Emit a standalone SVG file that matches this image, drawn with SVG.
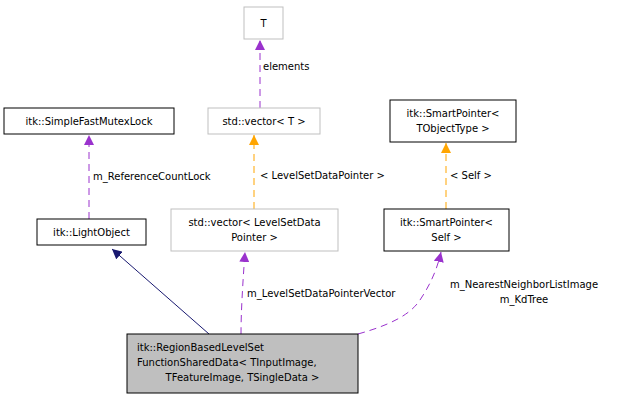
<svg xmlns="http://www.w3.org/2000/svg" width="617" height="400" viewBox="0 0 617 400">
<style>
text{font-family:"DejaVu Sans",sans-serif;font-size:10px;fill:#000}
.b{fill:#fff;stroke:#000;stroke-width:1}
.g{fill:#fff;stroke:#bfbfbf;stroke-width:1}
.p{fill:none;stroke:#9a32cd;stroke-dasharray:7,5}
.o{fill:none;stroke:#ffa500;stroke-dasharray:7,5}
.n{fill:none;stroke:#191970}
</style>
<defs>
<marker id="mp" viewBox="0 0 10 10" refX="10" refY="5" markerWidth="10" markerHeight="10" markerUnits="userSpaceOnUse" orient="auto"><path d="M0,0L10,5L0,10z" fill="#9a32cd"/></marker>
<marker id="mo" viewBox="0 0 10 10" refX="10" refY="5" markerWidth="10" markerHeight="10" markerUnits="userSpaceOnUse" orient="auto"><path d="M0,0L10,5L0,10z" fill="#ffa500"/></marker>
<marker id="mn" viewBox="0 0 10 10" refX="10" refY="5" markerWidth="10" markerHeight="10" markerUnits="userSpaceOnUse" orient="auto"><path d="M0,0L10,5L0,10z" fill="#191970"/></marker>
</defs>
<g id="connectors">
<path class="n" d="M209,334L112,249" marker-end="url(#mn)"/>
<path class="p" d="M89,219L89,135" marker-end="url(#mp)"/>
<text x="93" y="180">m_ReferenceCountLock</text>
<path class="p" d="M260,108L260,40" marker-end="url(#mp)"/>
<text x="263" y="70">elements</text>
<path class="o" d="M254,209L254,135" marker-end="url(#mo)"/>
<text x="260" y="179">&lt; LevelSetDataPointer &gt;</text>
<path class="o" d="M446,209L446,143" marker-end="url(#mo)"/>
<text x="450" y="179">&lt; Self &gt;</text>
<path class="p" d="M241,334C241,310 243,280 245,252" marker-end="url(#mp)"/>
<text x="247" y="297">m_LevelSetDataPointerVector</text>
<path class="p" d="M358,334C390,325 410,315 420,300C430,285 437,270 441,252" marker-end="url(#mp)"/>
<text x="524" y="288" text-anchor="middle">m_NearestNeighborListImage</text>
<text x="524" y="303" text-anchor="middle">m_KdTree</text>
</g>
<g id="T"><rect class="g" x="244" y="7" width="39" height="32"/><text x="263.5" y="27" text-anchor="middle">T</text></g>
<g id="mutex"><rect class="b" x="4" y="108" width="170" height="26"/><text x="89" y="125" text-anchor="middle">itk::SimpleFastMutexLock</text></g>
<g id="vecT"><rect class="g" x="208" y="108" width="112" height="26"/><text x="264" y="125" text-anchor="middle">std::vector&lt; T &gt;</text></g>
<g id="spT"><rect class="b" x="390" y="100" width="126" height="42"/><text x="453" y="117" text-anchor="middle">itk::SmartPointer&lt;</text><text x="453" y="132" text-anchor="middle">TObjectType &gt;</text></g>
<g id="light"><rect class="b" x="37" y="219" width="109" height="26"/><text x="91.5" y="236" text-anchor="middle">itk::LightObject</text></g>
<g id="vecL"><rect class="g" x="171" y="209" width="167" height="42"/><text x="254.5" y="226" text-anchor="middle">std::vector&lt; LevelSetData</text><text x="254.5" y="241" text-anchor="middle">Pointer &gt;</text></g>
<g id="spS"><rect class="b" x="384" y="209" width="125" height="42"/><text x="446.5" y="226" text-anchor="middle">itk::SmartPointer&lt;</text><text x="446.5" y="241" text-anchor="middle">Self &gt;</text></g>
<g id="main"><rect x="127" y="334" width="231" height="59" fill="#bfbfbf" stroke="#000"/><text x="137" y="351">itk::RegionBasedLevelSet</text><text x="137" y="366">FunctionSharedData&lt; TInputImage,</text><text x="242.5" y="381" text-anchor="middle">TFeatureImage, TSingleData &gt;</text></g>
</svg>
